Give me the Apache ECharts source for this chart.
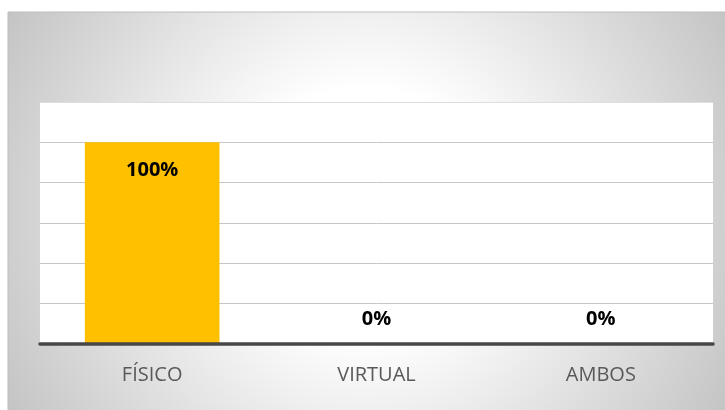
<!DOCTYPE html>
<html>
<head>
<meta charset="utf-8">
<script src="https://cdn.jsdelivr.net/npm/echarts@6/dist/echarts.min.js"></script>
<style>
  html, body { margin: 0; padding: 0; background: #ffffff; }
  #chart { width: 725px; height: 410px; }
</style>
</head>
<body>
<div id="chart"></div>
<script>
// Modalidad: share of responses per category
const categories = ['FÍSICO', 'VIRTUAL', 'AMBOS'];
const shares = [1, 0, 0];
const yTicks = [0, 0.2, 0.4, 0.6, 0.8, 1.0, 1.2];

const chart = echarts.init(document.getElementById('chart'), null, { renderer: 'canvas' });

const barData = shares.map(v => ({
  value: v,
  label: v > 0
    ? { position: 'insideTop', distance: 18 }
    : { position: 'top', distance: 14 }
}));

chart.setOption({
  animation: false,
  backgroundColor: '#ffffff',
  graphic: [{
    type: 'rect',
    z: -10,
    silent: true,
    shape: { x: 8, y: 12, width: 730, height: 410 },
    style: {
      fill: {
        type: 'radial', global: true,
        x: 367, y: 212, r: 411,
        colorStops: [
          { offset: 0, color: '#ffffff' },
          { offset: 0.3, color: '#ffffff' },
          { offset: 1, color: '#c4c4c4' }
        ]
      },
      stroke: '#bdbdbd',
      lineWidth: 1
    }
  }],
  grid: {
    left: 40, right: 12, top: 102, bottom: 66.5,
    show: true, backgroundColor: '#ffffff', borderWidth: 0
  },
  xAxis: {
    type: 'category',
    data: categories,
    axisLine: { show: true, lineStyle: { color: '#474747', width: 3.5 } },
    axisTick: { show: false },
    axisLabel: {
      color: '#595959', fontFamily: 'Open Sans', fontSize: 20, margin: 22
    },
    z: 5
  },
  yAxis: {
    type: 'value',
    min: yTicks[0],
    max: yTicks[yTicks.length - 1],
    interval: 0.2,
    axisLine: { show: false },
    axisTick: { show: false },
    axisLabel: { show: false },
    splitLine: {
      lineStyle: {
        color: ['#c6c6c6', '#c6c6c6', '#c6c6c6', '#c6c6c6', '#c6c6c6', '#c6c6c6', '#dedede'],
        width: 1
      }
    }
  },
  series: [{
    type: 'bar',
    data: barData,
    barWidth: '60%',
    itemStyle: { color: '#FFC000' },
    label: {
      show: true,
      color: '#000000',
      fontFamily: 'Open Sans',
      fontWeight: 'bold',
      fontSize: 20,
      formatter: p => Math.round(p.value * 100) + '%'
    }
  }]
});
</script>
</body>
</html>
